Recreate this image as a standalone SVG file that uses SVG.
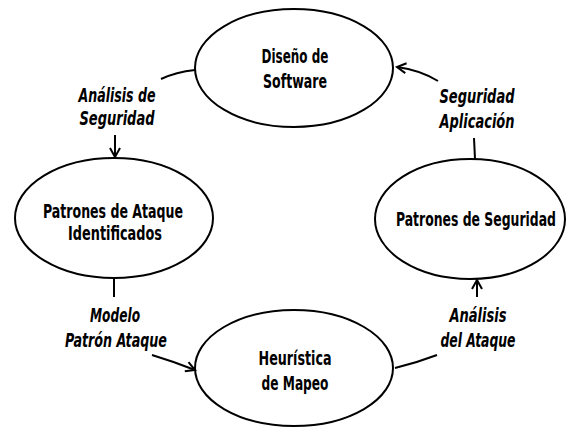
<svg xmlns="http://www.w3.org/2000/svg" width="566" height="428" viewBox="0 0 566 428">
<style>
.node ellipse{fill:#fff;stroke:#000;stroke-width:2}
.node text{font-family:"Liberation Sans Narrow","DejaVu Sans Condensed","DejaVu Sans",sans-serif;font-stretch:condensed;font-weight:bold;font-size:19px;text-anchor:middle;fill:#000}
.lbl{font-family:"Liberation Sans Narrow","DejaVu Sans Condensed","DejaVu Sans",sans-serif;font-stretch:condensed;font-weight:bold;font-style:italic;font-size:19px;text-anchor:middle;fill:#000}
.conn path{fill:none;stroke:#000;stroke-width:2}
</style>
<defs>
<marker id="arr" markerWidth="12" markerHeight="12" refX="10" refY="6" orient="auto" markerUnits="userSpaceOnUse">
<path d="M1,1 L10,6 L1,11" fill="none" stroke="#000" stroke-width="2"/>
</marker>
</defs>
<rect width="566" height="428" fill="#fff"/>
<g id="n-diseno" class="node">
<ellipse cx="294" cy="68" rx="99" ry="59"/>
<text x="295" y="63" textLength="67" lengthAdjust="spacingAndGlyphs">Diseño de</text>
<text x="295" y="88" textLength="64" lengthAdjust="spacingAndGlyphs">Software</text>
</g>
<g id="n-ataque" class="node">
<ellipse cx="114" cy="218" rx="99" ry="60"/>
<text x="113" y="218" textLength="140" lengthAdjust="spacingAndGlyphs">Patrones de Ataque</text>
<text x="115" y="240" textLength="94" lengthAdjust="spacingAndGlyphs">Identificados</text>
</g>
<g id="n-seguridad" class="node">
<ellipse cx="470" cy="219" rx="95" ry="60"/>
<text x="476" y="226" textLength="160" lengthAdjust="spacingAndGlyphs">Patrones de Seguridad</text>
</g>
<g id="n-heuristica" class="node">
<ellipse cx="294" cy="368" rx="99" ry="58"/>
<text x="295" y="365" textLength="73" lengthAdjust="spacingAndGlyphs">Heurística</text>
<text x="295" y="390" textLength="67" lengthAdjust="spacingAndGlyphs">de Mapeo</text>
</g>
<g id="connectors" class="conn">
<path d="M195,70 Q176,72 161,79"/>
<path d="M115,135 L115,157" marker-end="url(#arr)"/>
<path d="M475,159 L474,138"/>
<path d="M438,81 Q420,70 397,67" marker-end="url(#arr)"/>
<path d="M114,279 L114,297"/>
<path d="M152,355 Q175,362 195,370" marker-end="url(#arr)"/>
<path d="M437,355 Q416,363 395,368"/>
<path d="M477,297 L477,280" marker-end="url(#arr)"/>
</g>
<g id="labels">
<text class="lbl" x="117" y="102" textLength="77" lengthAdjust="spacingAndGlyphs">Análisis de</text>
<text class="lbl" x="117" y="125" textLength="75" lengthAdjust="spacingAndGlyphs">Seguridad</text>
<text class="lbl" x="477" y="103" textLength="75" lengthAdjust="spacingAndGlyphs">Seguridad</text>
<text class="lbl" x="477" y="128" textLength="75" lengthAdjust="spacingAndGlyphs">Aplicación</text>
<text class="lbl" x="115" y="322" textLength="50" lengthAdjust="spacingAndGlyphs">Modelo</text>
<text class="lbl" x="116" y="347" textLength="102" lengthAdjust="spacingAndGlyphs">Patrón Ataque</text>
<text class="lbl" x="478" y="322" textLength="57" lengthAdjust="spacingAndGlyphs">Análisis</text>
<text class="lbl" x="478" y="347" textLength="75" lengthAdjust="spacingAndGlyphs">del Ataque</text>
</g>
</svg>
